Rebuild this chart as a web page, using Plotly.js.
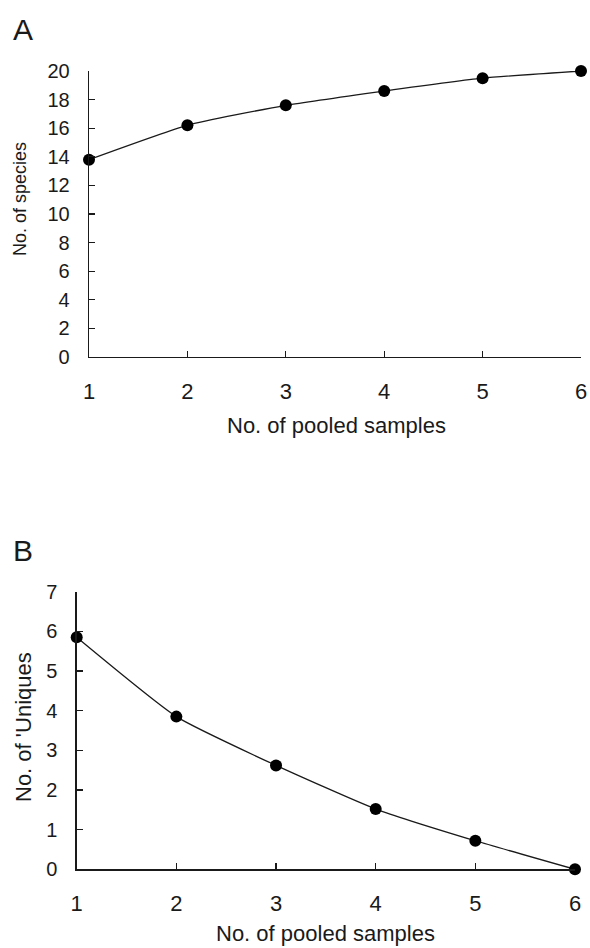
<!DOCTYPE html>
<html>
<head>
<meta charset="utf-8">
<script src="https://cdn.plot.ly/plotly-3.0.1.min.js"></script>
<style>
  html, body { margin: 0; padding: 0; background: #fff; }
  #chart { width: 590px; height: 948px; }
</style>
</head>
<body>
<div id="chart"></div>
<script>
// Data
var pooledSamples = [1, 2, 3, 4, 5, 6];
var speciesCount = [13.8, 16.2, 17.6, 18.6, 19.5, 20.0];
var uniquesCount = [5.85, 3.85, 2.62, 1.52, 0.72, 0.0];
var yTicksA = [0, 2, 4, 6, 8, 10, 12, 14, 16, 18, 20];
var yTicksB = [0, 1, 2, 3, 4, 5, 6, 7];
var xTicks = [1, 2, 3, 4, 5, 6];

var FONT = '"Liberation Sans", Arial, sans-serif';
var INK = '#1a1a1a';

function lineTrace(x, y, xa, ya) {
  return {
    x: x, y: y, xaxis: xa, yaxis: ya,
    type: 'scatter', mode: 'lines+markers',
    line: { color: INK, width: 1.3, shape: 'spline', smoothing: 0.5 },
    marker: { color: '#000', size: 12, symbol: 'circle' },
    cliponaxis: false, showlegend: false, hoverinfo: 'x+y'
  };
}

var baseX = {
  range: [1, 6], tickvals: xTicks, ticktext: xTicks.map(String),
  showgrid: false, zeroline: false, showline: true, linecolor: INK, linewidth: 1.3,
  ticks: 'inside', ticklen: 6, tickwidth: 1.2, tickcolor: INK,
  tickfont: { family: FONT, size: 22, color: INK },
  ticklabelstandoff: 14, automargin: false, fixedrange: true
};
var baseY = {
  showgrid: false, zeroline: false, showline: true, linecolor: INK, linewidth: 1.3,
  ticks: 'inside', ticklen: 6, tickwidth: 1.2, tickcolor: INK,
  tickfont: { family: FONT, size: 20, color: INK },
  ticklabelstandoff: 14, automargin: false, fixedrange: true
};

var layout = {
  width: 590, height: 948,
  margin: { l: 0, r: 0, t: 0, b: 0 },
  paper_bgcolor: '#fff', plot_bgcolor: '#fff',
  font: { family: FONT, color: INK },
  xaxis: Object.assign({}, baseX, { domain: [89 / 590, 581 / 590], anchor: 'y' }),
  yaxis: Object.assign({}, baseY, { domain: [1 - 357 / 948, 1 - 71 / 948], anchor: 'x',
    range: [0, 20], tickvals: yTicksA, ticktext: yTicksA.map(String) }),
  xaxis2: Object.assign({}, baseX, { domain: [76.7 / 590, 575 / 590], anchor: 'y2' }),
  yaxis2: Object.assign({}, baseY, { domain: [1 - 869.3 / 948, 1 - 591.7 / 948], anchor: 'x2',
    range: [0, 7], tickvals: yTicksB, ticktext: yTicksB.map(String) }),
  annotations: [
    { text: 'A', xref: 'paper', yref: 'paper', x: 11 / 590, y: 1 - 30 / 948,
      xanchor: 'left', yanchor: 'middle', showarrow: false, font: { family: FONT, size: 30, color: INK } },
    { text: 'B', xref: 'paper', yref: 'paper', x: 11 / 590, y: 1 - 550 / 948,
      xanchor: 'left', yanchor: 'middle', showarrow: false, font: { family: FONT, size: 30, color: INK } },
    { text: 'No. of species', xref: 'paper', yref: 'paper', x: 20 / 590, y: 1 - 199 / 948,
      xanchor: 'center', yanchor: 'middle', textangle: -90, showarrow: false,
      font: { family: FONT, size: 18, color: INK } },
    { text: "No. of 'Uniques", xref: 'paper', yref: 'paper', x: 23 / 590, y: 1 - 727 / 948,
      xanchor: 'center', yanchor: 'middle', textangle: -90, showarrow: false,
      font: { family: FONT, size: 22, color: INK } },
    { text: 'No. of pooled samples', xref: 'paper', yref: 'paper', x: 336 / 590, y: 1 - 425 / 948,
      xanchor: 'center', yanchor: 'middle', showarrow: false, font: { family: FONT, size: 22, color: INK } },
    { text: 'No. of pooled samples', xref: 'paper', yref: 'paper', x: 326 / 590, y: 1 - 933 / 948,
      xanchor: 'center', yanchor: 'middle', showarrow: false, font: { family: FONT, size: 22, color: INK } }
  ]
};

var data = [
  lineTrace(pooledSamples, speciesCount, 'x', 'y'),
  lineTrace(pooledSamples, uniquesCount, 'x2', 'y2')
];

Plotly.newPlot('chart', data, layout, { displayModeBar: false, staticPlot: true });
</script>
</body>
</html>
